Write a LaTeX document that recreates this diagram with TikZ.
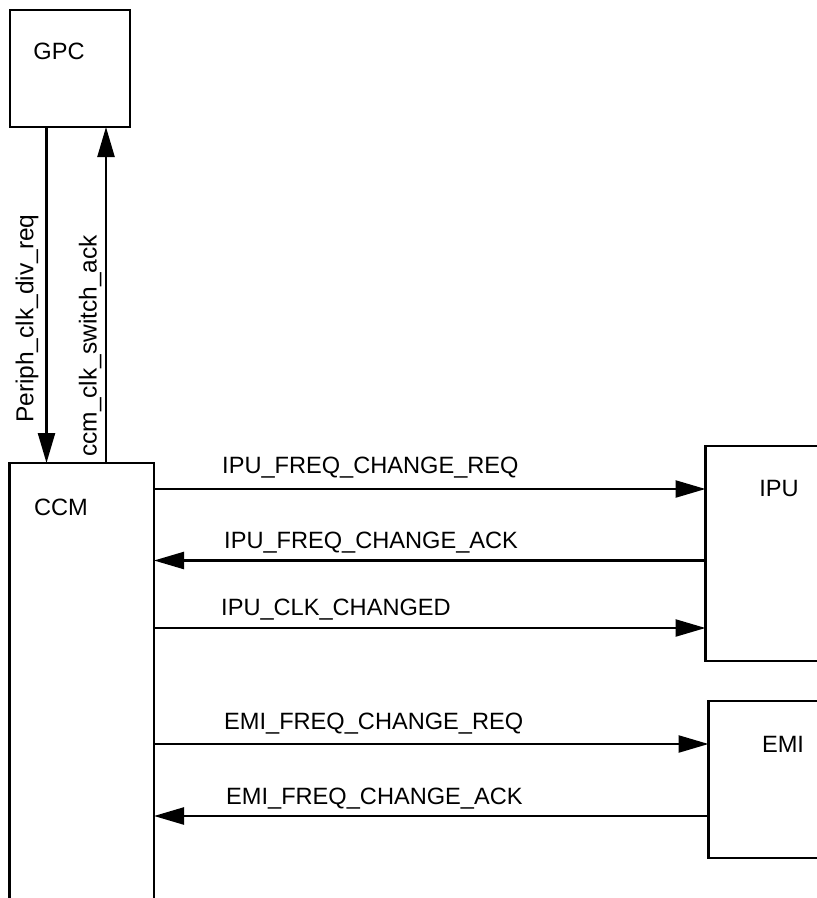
\documentclass[tikz,border=0pt]{standalone}
\usepackage{fontspec}
\setmainfont{Liberation Sans}
\usetikzlibrary{arrows.meta}
\begin{document}
\begin{tikzpicture}[x=1pt,y=-1pt,
  boxline/.style={line width=2.4pt},
  sig/.style={line width=2.4pt,-{Triangle[length=30pt,width=17pt]}},
  lbl/.style={font=\fontsize{23.6}{28}\selectfont, inner sep=0pt, anchor=base west},
  vlbl/.style={font=\fontsize{24.5}{28}\selectfont, inner sep=0pt, anchor=base west, rotate=90},
  blk/.style={font=\fontsize{23.6}{28}\selectfont, inner sep=0pt, anchor=base}]
\useasboundingbox (0,0) rectangle (817,898);

% blocks
\draw[boxline] (10,10) rectangle (130,127);
\node[blk] (gpc) at (59,59) {GPC};

\draw[boxline] (9.5,900) -- (9.5,463) -- (154,463) -- (154,900);
\node[blk] (ccm) at (61,515) {CCM};

\draw[boxline] (820,446) -- (705.5,446) -- (705.5,661) -- (820,661);
\node[blk] (ipu) at (779,496) {IPU};

\draw[boxline] (820,701) -- (708.5,701) -- (708.5,858) -- (820,858);
\node[blk] (emi) at (783,752) {EMI};

% connector end points
\coordinate (gpcA) at (46.5,127);
\coordinate (ccmA) at (46.5,463);
\coordinate (gpcB) at (106,127);
\coordinate (ccmB) at (106,463);
\coordinate (c1) at (154,489);   \coordinate (i1) at (705.5,489);
\coordinate (c2) at (154,560.5); \coordinate (i2) at (705.5,560.5);
\coordinate (c3) at (154,628);   \coordinate (i3) at (705.5,628);
\coordinate (c4) at (154,744);   \coordinate (e4) at (708.5,744);
\coordinate (c5) at (154,816);   \coordinate (e5) at (708.5,816);

% vertical signals
\draw[sig] (gpcA) -- (ccmA);
\draw[sig] (ccmB) -- (gpcB);
\node[vlbl] (lp) at (33.5,423) {Periph\_clk\_div\_req};
\node[vlbl] (lc) at (96.5,457) {ccm\_clk\_switch\_ack};

% horizontal signals
\draw[sig] (c1) -- (i1);
\draw[sig] (i2) -- (c2);
\draw[sig] (c3) -- (i3);
\draw[sig] (c4) -- (e4);
\draw[sig] (e5) -- (c5);

\node[lbl] (l1) at (222,473) {IPU\_FREQ\_CHANGE\_REQ};
\node[lbl] (l2) at (224,548) {IPU\_FREQ\_CHANGE\_ACK};
\node[lbl] (l3) at (221,615) {IPU\_CLK\_CHANGED};
\node[lbl] (l4) at (224,729) {EMI\_FREQ\_CHANGE\_REQ};
\node[lbl] (l5) at (226,804) {EMI\_FREQ\_CHANGE\_ACK};
\end{tikzpicture}
\end{document}
